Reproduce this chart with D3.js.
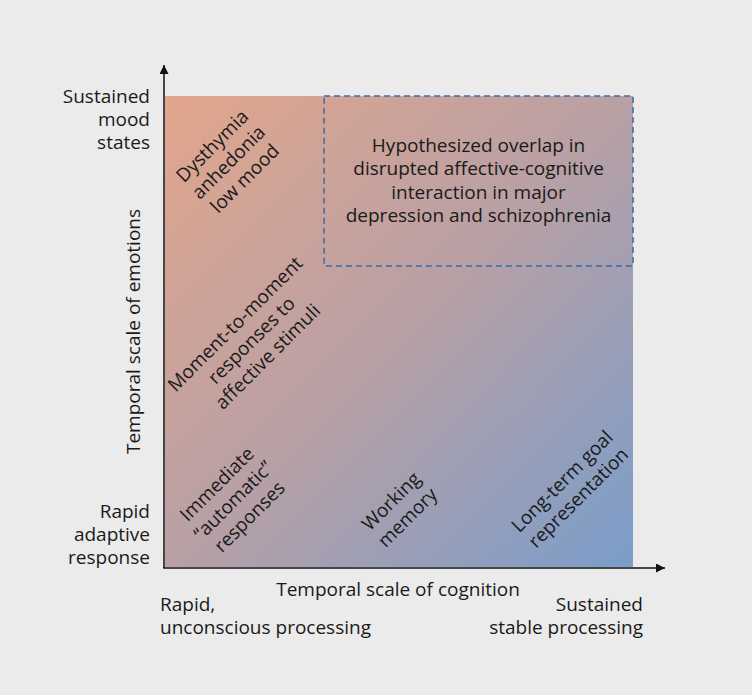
<!DOCTYPE html>
<html>
<head>
<meta charset="utf-8">
<script src="https://cdn.jsdelivr.net/npm/d3@7"></script>
<style>
  body { margin: 0; background: #ebebeb; }
  svg { display: block; }
  text { font-family: "Open Sans", "Noto Sans", sans-serif; fill: #1a1a1a; }
</style>
</head>
<body>
<div id="chart"></div>
<script>
// conceptual grid runs 0..10 on both scales
var cellLabels = [
  ["Dysthymia", "anhedonia", "low mood"],
  ["Moment-to-moment", "responses to", "affective stimuli"],
  ["Immediate", "\u201Cautomatic\u201D", "responses"],
  ["Working", "memory"],
  ["Long-term goal", "representation"]
];
var cellX = [1.35, 1.84, 1.45, 5.0, 8.65];
var cellY = [8.6, 4.82, 1.42, 1.23, 1.65];

var overlapText = ["Hypothesized overlap in", "disrupted affective-cognitive",
                   "interaction in major", "depression and schizophrenia"];
var overlapX = [3.4, 10];
var overlapY = [6.39, 10];

var yEndLabels = [["Rapid", "adaptive", "response"], ["Sustained", "mood", "states"]];
var xEndLabels = [["Rapid,", "unconscious processing"], ["Sustained", "stable processing"]];
var xTitle = "Temporal scale of cognition";
var yTitle = "Temporal scale of emotions";

var W = 752, H = 695;
var fs = "19px";
var svg = d3.select("#chart").append("svg")
    .attr("width", W).attr("height", H);

var x = d3.scaleLinear().domain([0, 10]).range([165, 633]);
var y = d3.scaleLinear().domain([0, 10]).range([567, 96]);

// gradient fill for the square
var defs = svg.append("defs");
var grad = defs.append("linearGradient")
    .attr("id", "bg")
    .attr("x1", "0%").attr("y1", "0%")
    .attr("x2", "100%").attr("y2", "100%");
grad.append("stop").attr("offset", "0%").attr("stop-color", "#e2a68c");
grad.append("stop").attr("offset", "50%").attr("stop-color", "#b8a0a5");
grad.append("stop").attr("offset", "100%").attr("stop-color", "#7a9dca");

defs.append("marker")
    .attr("id", "arrow")
    .attr("viewBox", "0 0 10 10")
    .attr("refX", 10).attr("refY", 5)
    .attr("markerWidth", 11).attr("markerHeight", 9)
    .attr("markerUnits", "userSpaceOnUse")
    .attr("orient", "auto")
  .append("path")
    .attr("d", "M0,0L10,5L0,10Z")
    .attr("fill", "#111");

svg.append("rect")
    .attr("x", x(0)).attr("y", y(10))
    .attr("width", x(10) - x(0))
    .attr("height", y(0) - y(10))
    .attr("fill", "url(#bg)");

// dashed overlap box
svg.append("rect")
    .attr("x", x(overlapX[0])).attr("y", y(overlapY[1]))
    .attr("width", x(overlapX[1]) - x(overlapX[0]))
    .attr("height", y(overlapY[0]) - y(overlapY[1]))
    .attr("fill", "none")
    .attr("stroke", "#3a6ca3")
    .attr("stroke-width", 1.5)
    .attr("stroke-dasharray", "6,4");

var ot = svg.append("text")
    .attr("text-anchor", "middle")
    .style("font-size", fs);
overlapText.forEach(function(t, i) {
  ot.append("tspan")
    .attr("x", x((overlapX[0] + overlapX[1]) / 2))
    .attr("y", y((overlapY[0] + overlapY[1]) / 2) + (i - 1.5) * 23.5 + 6)
    .text(t);
});

// axes
svg.append("line")
    .attr("x1", x(0) - 1).attr("y1", y(0) + 1)
    .attr("x2", x(0) - 1).attr("y2", y(10) - 31)
    .attr("stroke", "#111").attr("stroke-width", 1.5)
    .attr("marker-end", "url(#arrow)");
svg.append("line")
    .attr("x1", x(0) - 1.75).attr("y1", y(0) + 1)
    .attr("x2", x(10) + 32).attr("y2", y(0) + 1)
    .attr("stroke", "#111").attr("stroke-width", 1.5)
    .attr("marker-end", "url(#arrow)");

// rotated labels inside the square
svg.selectAll(".cell")
  .data(cellLabels)
  .enter()
  .append("text")
    .attr("class", "cell")
    .attr("text-anchor", "middle")
    .style("font-size", fs)
    .attr("transform", function(d, i) {
      return "translate(" + x(cellX[i]) + "," + y(cellY[i]) + ") rotate(-45)";
    })
  .each(function(d) {
    var n = d.length;
    d3.select(this).selectAll("tspan")
      .data(d)
      .enter()
      .append("tspan")
        .attr("x", 0)
        .attr("y", function(t, j) { return (j - (n - 1) / 2) * 23 + 7; })
        .text(function(t) { return t; });
  });

// y end labels
[0, 10].forEach(function(v, k) {
  var lines = yEndLabels[k];
  var base = k === 1 ? y(10) + 7 : y(0) - 3 - (lines.length - 1) * 23;
  svg.append("text")
    .attr("text-anchor", "end")
    .style("font-size", fs)
    .selectAll("tspan")
    .data(lines)
    .enter()
    .append("tspan")
      .attr("x", 150)
      .attr("y", function(t, j) { return base + j * 23; })
      .text(function(t) { return t; });
});

// x end labels
[0, 10].forEach(function(v, k) {
  svg.append("text")
    .attr("text-anchor", k === 0 ? "start" : "end")
    .style("font-size", fs)
    .selectAll("tspan")
    .data(xEndLabels[k])
    .enter()
    .append("tspan")
      .attr("x", k === 0 ? x(0) - 5 : x(10) + 10)
      .attr("y", function(t, j) { return 611 + j * 23; })
      .text(function(t) { return t; });
});

// axis titles
svg.append("text")
    .attr("text-anchor", "middle")
    .style("font-size", fs)
    .attr("x", 398).attr("y", 596)
    .text(xTitle);

svg.append("text")
    .attr("text-anchor", "middle")
    .style("font-size", fs)
    .attr("transform", "translate(140," + y(5) + ") rotate(-90)")
    .text(yTitle);
</script>
</body>
</html>
